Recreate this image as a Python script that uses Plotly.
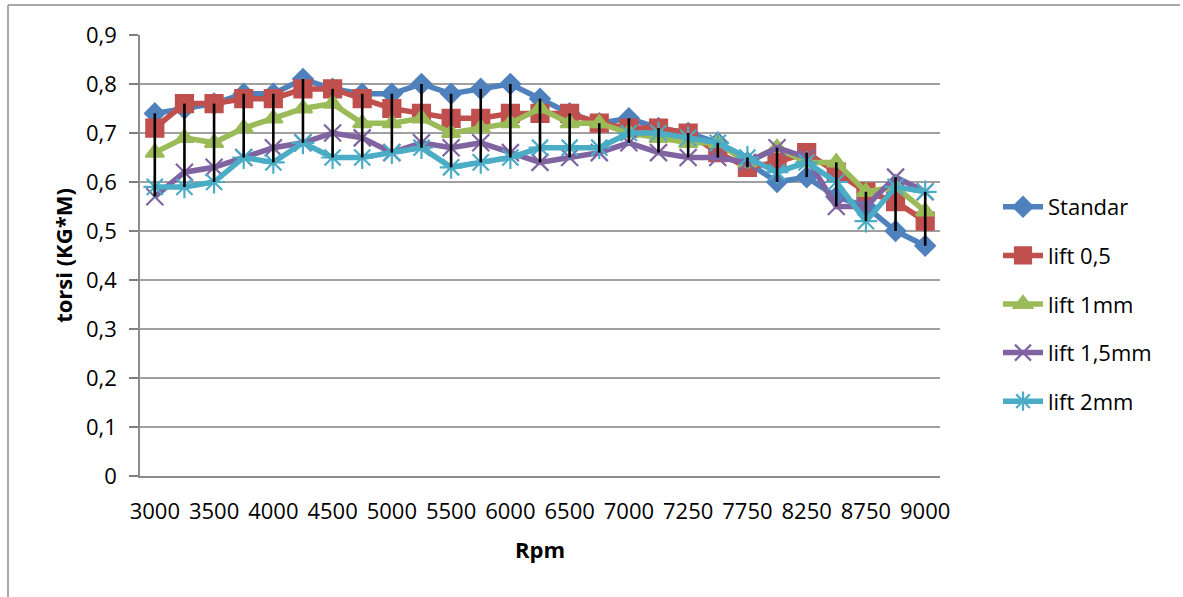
import plotly.graph_objects as go

rpm = ["3000", "3250", "3500", "3750", "4000", "4250", "4500", "4750", "5000",
       "5250", "5500", "5750", "6000", "6250", "6500", "6750", "7000", "7125",
       "7250", "7500", "7750", "8000", "8250", "8500", "8750", "8875", "9000"]

standar = [0.74, 0.75, 0.76, 0.78, 0.78, 0.81, 0.79, 0.78, 0.78, 0.80, 0.78, 0.79, 0.80,
           0.77, 0.74, 0.72, 0.73, 0.71, 0.70, 0.68, 0.64, 0.60, 0.61, 0.57, 0.55, 0.50, 0.47]
lift_05 = [0.71, 0.76, 0.76, 0.77, 0.77, 0.79, 0.79, 0.77, 0.75, 0.74, 0.73, 0.73, 0.74,
           0.74, 0.74, 0.72, 0.71, 0.71, 0.70, 0.66, 0.63, 0.64, 0.66, 0.62, 0.58, 0.56, 0.52]
lift_1 = [0.66, 0.69, 0.68, 0.71, 0.73, 0.75, 0.76, 0.72, 0.72, 0.73, 0.70, 0.71, 0.72,
          0.75, 0.72, 0.72, 0.70, 0.69, 0.68, 0.68, 0.64, 0.67, 0.64, 0.64, 0.58, 0.59, 0.54]
lift_15 = [0.57, 0.62, 0.63, 0.65, 0.67, 0.68, 0.70, 0.69, 0.66, 0.68, 0.67, 0.68, 0.66,
           0.64, 0.65, 0.66, 0.68, 0.66, 0.65, 0.65, 0.64, 0.67, 0.65, 0.55, 0.55, 0.61, 0.58]
lift_2 = [0.59, 0.59, 0.60, 0.65, 0.64, 0.68, 0.65, 0.65, 0.66, 0.67, 0.63, 0.64, 0.65,
          0.67, 0.67, 0.67, 0.70, 0.70, 0.69, 0.68, 0.65, 0.62, 0.64, 0.60, 0.52, 0.59, 0.58]

series_names = ["Standar", "lift 0,5", "lift 1mm", "lift 1,5mm", "lift 2mm"]
series_values = [standar, lift_05, lift_1, lift_15, lift_2]
colors = ["#4F81BD", "#C0504D", "#9BBB59", "#8064A2", "#4BACC6"]
symbols = ["diamond", "square", "triangle-up", "x-thin-open", "asterisk-open"]
sizes = [15, 17, 16, 17, 19]

y_ticks = [0, 0.1, 0.2, 0.3, 0.4, 0.5, 0.6, 0.7, 0.8, 0.9]
y_tick_text = ["0", "0,1", "0,2", "0,3", "0,4", "0,5", "0,6", "0,7", "0,8", "0,9"]

FONT = "Open Sans"
idx = list(range(len(rpm)))

fig = go.Figure()
for name, vals, col, sym, sz in zip(series_names, series_values, colors, symbols, sizes):
    fig.add_trace(go.Scatter(
        x=idx, y=vals, name=name, mode="lines+markers", legendgroup=name,
        line=dict(color=col, width=5.5),
        marker=dict(symbol=sym, size=sz, color=col, line=dict(color=col, width=2.2)),
    ))

# high-low lines
hx, hy = [], []
for i in idx:
    col_vals = [s[i] for s in series_values]
    hx += [i, i, None]
    hy += [max(col_vals), min(col_vals), None]
fig.add_trace(go.Scatter(x=hx, y=hy, mode="lines", line=dict(color="black", width=2.6),
                         showlegend=False, hoverinfo="skip"))

L, R, T, B = 140, 940, 35, 476
W, H = 1183, 597

def px(x):
    return (x - L) / (R - L)

def py(y):
    return (B - y) / (B - T)

fig.update_layout(
    width=W, height=H,
    margin=dict(l=L, r=W - R, t=T, b=H - B),
    paper_bgcolor="white", plot_bgcolor="white",
    font=dict(family=FONT, size=22, color="black"),
    showlegend=True,
    legend=dict(x=px(998), y=py(186), xanchor="left", yanchor="top",
                font=dict(family=FONT, size=22, color="black"),
                tracegroupgap=17, itemwidth=40, bgcolor="rgba(0,0,0,0)"),
    xaxis=dict(
        range=[-0.5, len(rpm) - 0.5],
        tickmode="array", tickvals=idx[::2], ticktext=rpm[::2],
        ticks="", showgrid=False, zeroline=False,
        showline=True, linecolor="#8c8c8c", linewidth=1.5,
        tickfont=dict(family=FONT, size=22), ticklabelstandoff=15,
        title=dict(text="<b>Rpm</b>", font=dict(family=FONT, size=22), standoff=18),
    ),
    yaxis=dict(
        range=[0, 0.9], tickmode="array", tickvals=y_ticks, ticktext=y_tick_text,
        ticks="outside", ticklen=9, tickcolor="#7f7f7f", tickwidth=1.6,
        showgrid=True, gridcolor="#a0a0a0", gridwidth=1.6, zeroline=False,
        showline=True, linecolor="#8c8c8c", linewidth=1.5,
        tickfont=dict(family=FONT, size=22), ticklabelstandoff=8,
        title=dict(text="<b>torsi (KG*M)</b>", font=dict(family=FONT, size=22), standoff=7),
    ),
    shapes=[
        dict(type="line", xref="paper", yref="paper", x0=px(8), x1=px(8), y0=py(5), y1=py(700),
             line=dict(color="#8c8c8c", width=1.5)),
        dict(type="line", xref="paper", yref="paper", x0=px(8), x1=px(1180), y0=py(5), y1=py(5),
             line=dict(color="#8c8c8c", width=1.5)),
    ],
)

fig.write_html("out.html")
